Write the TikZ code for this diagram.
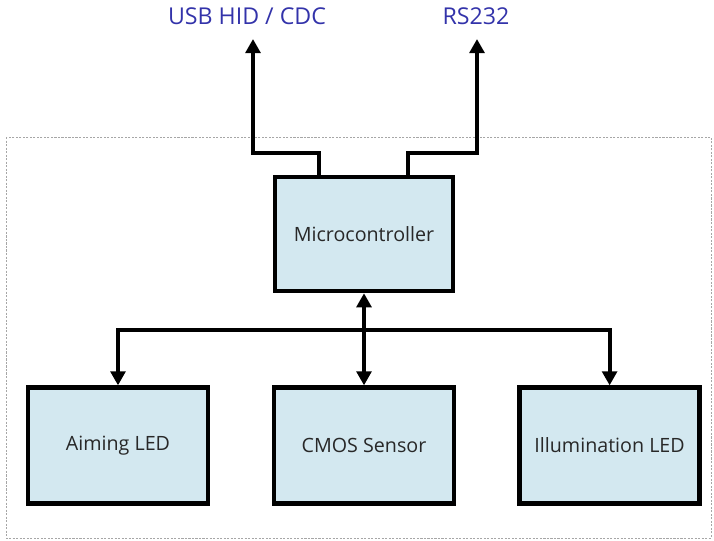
\documentclass[tikz,border=0pt]{standalone}
\usepackage{fontspec}
\setmainfont{Open Sans}
\usepackage{tikz}
\usetikzlibrary{arrows.meta,positioning,calc}

\definecolor{boxfill}{RGB}{211,232,240}
\definecolor{boxtext}{RGB}{40,40,40}
\definecolor{iftext}{RGB}{51,51,170}

\begin{document}
\begin{tikzpicture}[
  block/.style={rectangle,draw,line width=3.2pt,fill=boxfill,text=boxtext,
    minimum width=4.5cm,minimum height=2.9cm,inner sep=0pt,
    font=\fontsize{14}{16}\selectfont},
  iface/.style={text=iftext,font=\fontsize{16.5}{19}\selectfont},
  link/.style={line width=2.8pt,-{Triangle[length=10pt,width=10.5pt]}},
  dlink/.style={line width=2.8pt,{Triangle[length=10pt,width=10.5pt]}-{Triangle[length=10pt,width=10.5pt]}}
]
\useasboundingbox (0,0) rectangle (17.85,-13.5);
\draw[gray!70,line width=0.6pt,dash pattern=on 1.5pt off 1pt] (0.15,-3.425) rectangle (17.775,-13.45);

\node (usb) at (6.175,-0.4)[iface] {USB HID / CDC};
\node (rs) at (11.9,-0.4)[iface] {RS232};

\node (mcu) at (9.1,-5.85)[block,minimum width=4.45cm,minimum height=2.85cm] {Microcontroller};
\node (aim) at (2.95,-11.14)[block] {Aiming LED};
\node (cmos) at (9.1,-11.14)[block] {CMOS Sensor};
\node (illum) at (15.24,-11.14)[block] {Illumination LED};

\coordinate (usbend) at (6.325,-0.975);
\coordinate (rsend) at (11.925,-0.975);
\coordinate (bus) at (9.1,-8.25);

\draw[link] ([xshift=-1.125cm]mcu.north) -- ++(0,0.55) -| (usbend);
\draw[link] ([xshift=1.1cm]mcu.north) -- ++(0,0.55) -| (rsend);

\draw[dlink] (mcu) -- (cmos);
\draw[dlink] (aim.north) |- (bus) -| (illum.north);

\end{tikzpicture}
\end{document}
